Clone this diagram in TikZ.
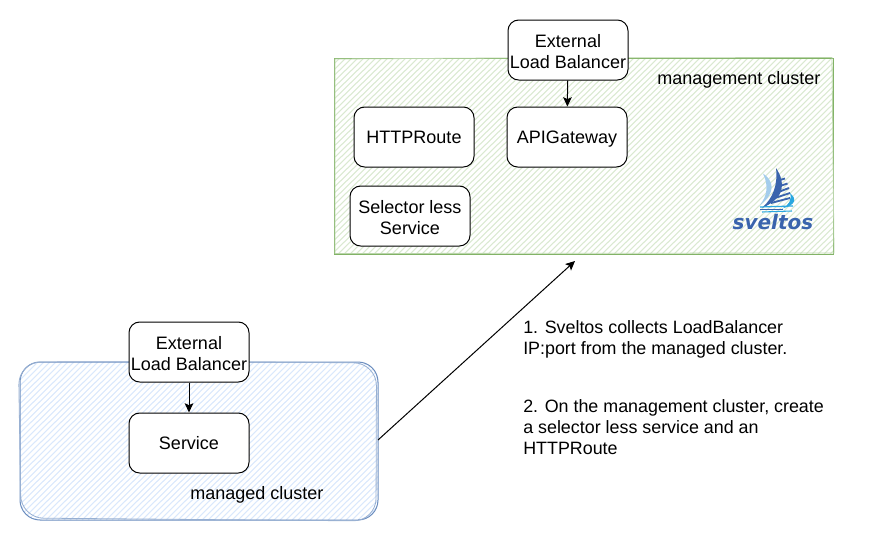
\documentclass[tikz,border=0pt]{standalone}
\usepackage{fontspec}
\setmainfont{Liberation Sans}
\newfontfamily\logofont[BoldItalicFont={DejaVu Sans Bold Oblique}]{DejaVu Sans}
\definecolor{boxline}{HTML}{000000}
\definecolor{gline}{HTML}{82B366}
\definecolor{ghatch}{HTML}{DAE9D1}
\definecolor{bline}{HTML}{6C8EBF}
\definecolor{bhatch}{HTML}{DAE8FC}
\definecolor{logodark}{HTML}{3A64AD}
\definecolor{logolight}{HTML}{A4CDEC}
\definecolor{logocyan}{HTML}{2AA7E0}
\usetikzlibrary{arrows.meta}
\newcommand{\topstrut}{\rule{0pt}{12pt}}
\tikzset{
  x=0.75pt,y=-0.75pt,
  card/.style={draw=boxline,fill=white,line width=0.75pt,rounded corners=8pt,minimum width=90pt,minimum height=45pt,inner sep=0pt,align=center,font=\fontsize{13.5}{16.2}\selectfont},
  oneline/.style={text height=11.4pt,text depth=1pt},
  caption/.style={inner sep=0pt,anchor=base west,font=\fontsize{13.5}{16}\selectfont},
  notepara/.style={inner sep=0pt,anchor=base west,font=\fontsize{13.4}{16}\selectfont},
  link/.style={draw=black,line width=0.75pt,-{Stealth[length=7pt,width=6.5pt,inset=1.5pt]}},
}
\begin{document}
\begin{tikzpicture}
\useasboundingbox (0,0) rectangle (883,540);
% management cluster hatch
\begin{scope}
\clip (334,58) rectangle (833,254);
\foreach \k in {0,6,...,760}{
  \draw[ghatch,line width=0.8pt] (334+\k-200,254) -- (334+\k,58);
}
\end{scope}
\draw[gline,line width=0.75pt] (334,58) -- (833,58) -- (833,254) -- (334,254) -- cycle;
\draw[gline!55,line width=0.6pt] (500,58) -- (832,57.5) -- (834,253) -- (335,253.5) -- (335,59) -- (500,58);
% managed cluster hatch
\begin{scope}
\clip[rounded corners=15pt] (20,362) rectangle (378,520);
\foreach \k in {0,6,...,600}{
  \draw[bhatch,line width=0.8pt] (20+\k-160,520) -- (20+\k,362);
}
\end{scope}
\draw[bline,line width=0.75pt,rounded corners=15pt] (20,362) rectangle (378,520);
\draw[bline!70,line width=0.6pt,rounded corners=17pt] (200,361.5) -- (18.5,362) -- (21,518) -- (376,521) -- (376.5,363) -- (200,361.5);
% cards
\node[card] (lbtop) at (568,50) {\topstrut External\\Load Balancer};
\node[card,oneline] (http) at (414,137) {HTTPRoute};
\node[card,oneline] (gw) at (567,137) {APIGateway};
\node[card] (sel) at (410,216) {\topstrut Selector less\\Service};
\node[card] (lbbot) at (189,352) {\topstrut External\\Load Balancer};
\node[card,oneline] (svc) at (189,443) {Service};
% connectors
\coordinate (from) at (378,440);
\coordinate (to) at (575,261);
\draw[link] (lbtop) -- (gw);
\draw[link] (lbbot) -- (svc);
\draw[link] (from) -- (to);
% labels
\node[caption] (mgmt) at (657,84.3) {management cluster};
\node[caption] (mgd) at (190,499.3) {managed cluster};
\node[notepara] (n1a) at (523,333.4) {1. Sveltos collects LoadBalancer};
\node[notepara] (n1b) at (523,354.5) {IP:port from the managed cluster.};
\node[notepara] (n2a) at (523,412.4) {2. On the management cluster, create};
\node[notepara] (n2b) at (523,433.4) {a selector less service and an};
\node[notepara] (n2c) at (523,454.3) {HTTPRoute};
% logo
\fill[logolight] (763,173.5) .. controls (773,180) and (777,192) .. (760,205) .. controls (767,196) and (769,186) .. (763,173.5) -- cycle;
\fill[logodark] (776,168) .. controls (786,183) and (785,198) .. (762,208) .. controls (773,198) and (778,185) .. (776,168) -- cycle;
\foreach \xa/\ya/\xb/\yb in {780/180/785/178.5, 780/186/787.5/183.5, 778.5/192/789/188, 775/198/790/193, 771/203/790/198}{
  \draw[logodark,line width=1.4pt] (\xa,\ya) -- (\xb,\yb);
}
\fill[logocyan] (790,193) .. controls (797,199) and (796,205) .. (782,208.5) .. controls (789,205) and (792,200) .. (790,193) -- cycle;
\draw[logocyan,line width=0.9pt] (760,207) -- (793,206);
\draw[logodark,line width=0.9pt] (760,209.5) -- (783,209.5);
\draw[logocyan,line width=0.8pt] (762,212) -- (792,211);
\node[inner sep=0pt,anchor=base,text=logodark,font=\logofont\bfseries\itshape\fontsize{15}{15}\selectfont] (logo) at (773,229) {sveltos};
\end{tikzpicture}
\end{document}
